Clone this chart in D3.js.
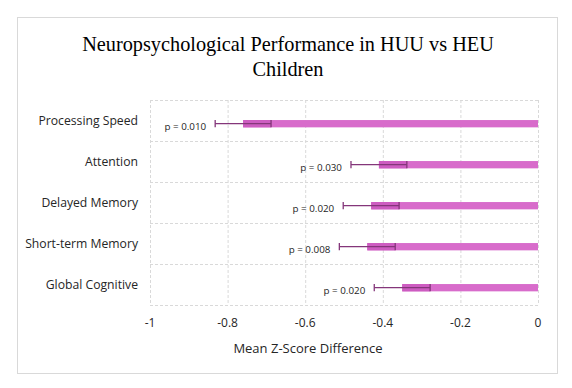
<!DOCTYPE html>
<html>
<head>
<meta charset="utf-8">
<script src="https://cdn.jsdelivr.net/npm/d3@7"></script>
<style>
    body { margin: 0; background: #fff; }
    text { font-family: "Open Sans", sans-serif; fill: #262626; }
    .title { font-family: "Liberation Serif", "Times New Roman", serif; fill: #000; }
</style>
</head>
<body>
<div id="chart"></div>
<script>
const categories = ["Processing Speed", "Attention", "Delayed Memory", "Short-term Memory", "Global Cognitive"];
const meanDiff = [-0.76, -0.41, -0.43, -0.44, -0.35];
const errors = [0.072, 0.072, 0.072, 0.072, 0.072];
const pLabels = ["p = 0.010", "p = 0.030", "p = 0.020", "p = 0.008", "p = 0.020"];
const xTicks = [-1, -0.8, -0.6, -0.4, -0.2, 0];

const width = 572, height = 388;
const margin = { top: 100, right: 34, bottom: 83, left: 150 };

const data = categories.map((c, i) => ({ cat: c, mean: meanDiff[i], err: errors[i], p: pLabels[i] }));

const svg = d3.select("#chart")
    .append("svg")
    .attr("width", width)
    .attr("height", height);

// chart frame
svg.append("rect")
    .attr("x", 17.5).attr("y", 17.5)
    .attr("width", 540).attr("height", 356)
    .attr("fill", "#fff")
    .attr("stroke", "#d9d9d9");

// title
svg.append("text")
    .attr("class", "title")
    .attr("text-anchor", "middle")
    .attr("font-size", 20.3)
    .selectAll("tspan")
    .data(["Neuropsychological Performance in HUU vs HEU", "Children"])
    .join("tspan")
    .attr("x", 288)
    .attr("y", (d, i) => 51 + i * 25)
    .text(d => d);

// scales
const x = d3.scaleLinear()
    .domain([-1, 0])
    .range([margin.left, width - margin.right]);

const y = d3.scaleBand()
    .domain(categories)
    .range([margin.top, height - margin.bottom]);

const [y0, y1] = y.range();

// gridlines
const grid = svg.append("g")
    .attr("stroke", "#d9d9d9")
    .attr("stroke-dasharray", "3,2");

grid.selectAll(".vgrid")
    .data(xTicks)
    .join("line")
    .attr("x1", d => x(d) + 0.5).attr("x2", d => x(d) + 0.5)
    .attr("y1", y0).attr("y2", y1);

grid.selectAll(".hgrid")
    .data(categories.map(c => y(c)).concat([y1]))
    .join("line")
    .attr("x1", x(-1)).attr("x2", x(0))
    .attr("y1", d => d + 0.5).attr("y2", d => d + 0.5);

// bars
const barH = 7.3;
const barY = d => y(d.cat) + y.bandwidth() / 2 + 3.2;

svg.selectAll(".bar")
    .data(data)
    .join("rect")
    .attr("class", "bar")
    .attr("x", d => x(d.mean))
    .attr("y", d => barY(d) - barH / 2)
    .attr("width", d => x(0) - x(d.mean))
    .attr("height", barH)
    .attr("fill", "#d86ccb");

svg.selectAll(".overlap")
    .data(data)
    .join("rect")
    .attr("class", "overlap")
    .attr("x", d => x(d.mean))
    .attr("y", d => barY(d) - barH / 2)
    .attr("width", d => x(d.mean + d.err) - x(d.mean))
    .attr("height", barH)
    .attr("fill", "#cd5cc1");

// error bars
const errG = svg.append("g")
    .attr("stroke", "#84367a")
    .attr("stroke-width", 1.3);

errG.selectAll(".err")
    .data(data)
    .join("line")
    .attr("x1", d => x(d.mean - d.err)).attr("x2", d => x(d.mean + d.err))
    .attr("y1", d => barY(d)).attr("y2", d => barY(d));

errG.selectAll(".capL")
    .data(data)
    .join("line")
    .attr("x1", d => x(d.mean - d.err)).attr("x2", d => x(d.mean - d.err))
    .attr("y1", d => barY(d) - 3.6).attr("y2", d => barY(d) + 3.6);

errG.selectAll(".capR")
    .data(data)
    .join("line")
    .attr("x1", d => x(d.mean + d.err)).attr("x2", d => x(d.mean + d.err))
    .attr("y1", d => barY(d) - 3.6).attr("y2", d => barY(d) + 3.6);

// p value labels
svg.selectAll(".plabel")
    .data(data)
    .join("text")
    .attr("class", "plabel")
    .attr("text-anchor", "end")
    .attr("font-size", 9.8)
    .attr("x", d => x(d.mean - d.err) - 9)
    .attr("y", d => barY(d) + 6.5)
    .text(d => d.p);

// category labels
svg.selectAll(".cat")
    .data(categories)
    .join("text")
    .attr("class", "cat")
    .attr("text-anchor", "end")
    .attr("font-size", 12.2)
    .attr("x", 138)
    .attr("y", d => y(d) + y.bandwidth() / 2 + 4)
    .text(d => d);

// x tick labels
svg.selectAll(".tick")
    .data(xTicks)
    .join("text")
    .attr("class", "tick")
    .attr("text-anchor", "middle")
    .attr("font-size", 12)
    .attr("x", d => x(d))
    .attr("y", 327)
    .text(d => d3.format("")(d).replace("−", "-"));

// x axis title
svg.append("text")
    .attr("text-anchor", "middle")
    .attr("font-size", 13)
    .attr("x", 308)
    .attr("y", 353)
    .text("Mean Z-Score Difference");
</script>
</body>
</html>
